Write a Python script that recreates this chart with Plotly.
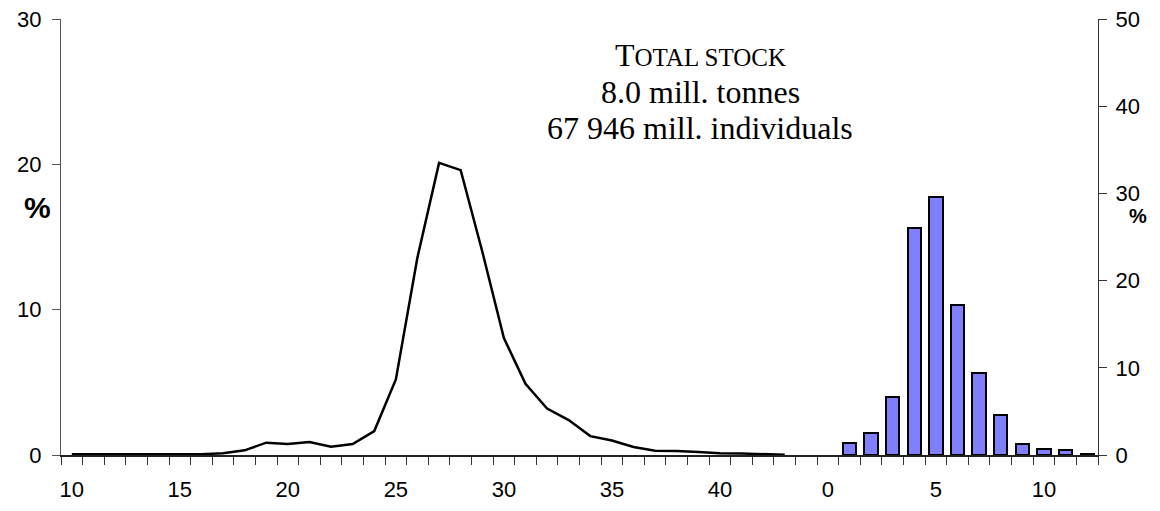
import plotly.graph_objects as go

# Length distribution (cm) as percent of total number
lengths = list(range(10, 44))
length_pct = [0.05, 0.05, 0.05, 0.05, 0.05, 0.05, 0.05, 0.12, 0.32, 0.85,
              0.75, 0.9, 0.57, 0.75, 1.65, 5.2, 13.6, 20.1, 19.6, 14.0,
              8.05, 4.9, 3.2, 2.4, 1.3, 1.0, 0.55, 0.3, 0.28, 0.2,
              0.12, 0.1, 0.05, 0.02]

# Age distribution (years) as percent of total number; no age-0 fish
ages = list(range(0, 13))
age_pct = [None, 1.4, 2.5, 6.6, 26.0, 29.6, 17.2, 9.4, 4.6, 1.3, 0.7, 0.6, 0.15]

length_ticks = [10, 15, 20, 25, 30, 35, 40]
age_ticks = [0, 5, 10]

left_ticks = [0, 10, 20, 30]
right_ticks = [0, 10, 20, 30, 40, 50]

# Both distributions share one horizontal axis: lengths first, one empty slot, then ages
x_len = list(range(len(lengths)))
age_offset = len(lengths) + 1
x_age = [age_offset + i for i in range(len(ages))]
n_slots = age_offset + len(ages)

tickvals = [lengths.index(v) for v in length_ticks] + [age_offset + ages.index(v) for v in age_ticks]
ticktext = [str(v) for v in length_ticks] + [str(v) for v in age_ticks]

fig = go.Figure()
fig.add_trace(go.Scatter(
    x=x_len, y=length_pct, mode="lines",
    line=dict(color="black", width=2.5), yaxis="y", showlegend=False,
))
fig.add_trace(go.Bar(
    x=x_age, y=age_pct, width=0.62,
    marker=dict(color="#8080FF", line=dict(color="black", width=2)),
    yaxis="y2", showlegend=False,
))

axis_font = dict(family="Liberation Sans, Arial, sans-serif", size=22, color="black")
serif = "Liberation Serif, Times New Roman, serif"

PLOT_L, PLOT_T, PLOT_W, PLOT_H = 61, 19, 1037, 436


def px_x(px):
    return (px - PLOT_L) / PLOT_W


def px_y(py):
    return 1 - (py - PLOT_T) / PLOT_H


info_lines = [
    "T<span style='font-size:25px'>OTAL STOCK</span>",
    "8.0 mill. tonnes",
    "67 946 mill. individuals",
]
info_y = [55, 92, 128]

annotations = [
    dict(text=t, xref="paper", yref="paper", x=px_x(700), y=px_y(yy),
         xanchor="center", yanchor="middle", showarrow=False,
         font=dict(family=serif, size=32, color="black"))
    for t, yy in zip(info_lines, info_y)
]
annotations += [
    dict(text="<b>%</b>", xref="paper", yref="paper", x=px_x(37), y=px_y(207),
         xanchor="center", yanchor="middle", showarrow=False,
         font=dict(family="Liberation Sans, Arial, sans-serif", size=30, color="black")),
    dict(text="<b>%</b>", xref="paper", yref="paper", x=px_x(1138), y=px_y(216),
         xanchor="center", yanchor="middle", showarrow=False,
         font=dict(family="Liberation Sans, Arial, sans-serif", size=20, color="black")),
]

fig.update_layout(
    width=1160, height=511,
    margin=dict(l=61, r=62, t=19, b=56, autoexpand=False),
    paper_bgcolor="white", plot_bgcolor="white",
    font=axis_font,
    xaxis=dict(
        range=[-0.5, n_slots - 0.5], automargin=False,
        tickmode="array", tickvals=tickvals, ticktext=ticktext,
        ticks="", ticklabelstandoff=14,
        showgrid=False, zeroline=False,
        showline=True, linecolor="#222", linewidth=1.5,
        minor=dict(tickmode="array", tickvals=[i - 0.5 for i in range(n_slots + 1)],
                   ticks="outside", ticklen=8, tickwidth=1, tickcolor="#333"),
        tickfont=axis_font,
    ),
    yaxis=dict(
        range=[0, 30], tickmode="array", tickvals=left_ticks, automargin=False,
        ticks="outside", ticklen=8, tickwidth=1, tickcolor="#555",
        showline=True, linecolor="#555", linewidth=1.2,
        showgrid=False, zeroline=False, ticklabelstandoff=6,
        tickfont=axis_font,
    ),
    yaxis2=dict(
        range=[0, 50], tickmode="array", tickvals=right_ticks, automargin=False,
        overlaying="y", side="right",
        ticks="outside", ticklen=8, tickwidth=1, tickcolor="#333",
        showline=True, linecolor="#333", linewidth=1.2,
        showgrid=False, zeroline=False, ticklabelstandoff=4,
        tickfont=axis_font,
    ),
    bargap=0,
    annotations=annotations,
)

fig.write_html("out.html")
